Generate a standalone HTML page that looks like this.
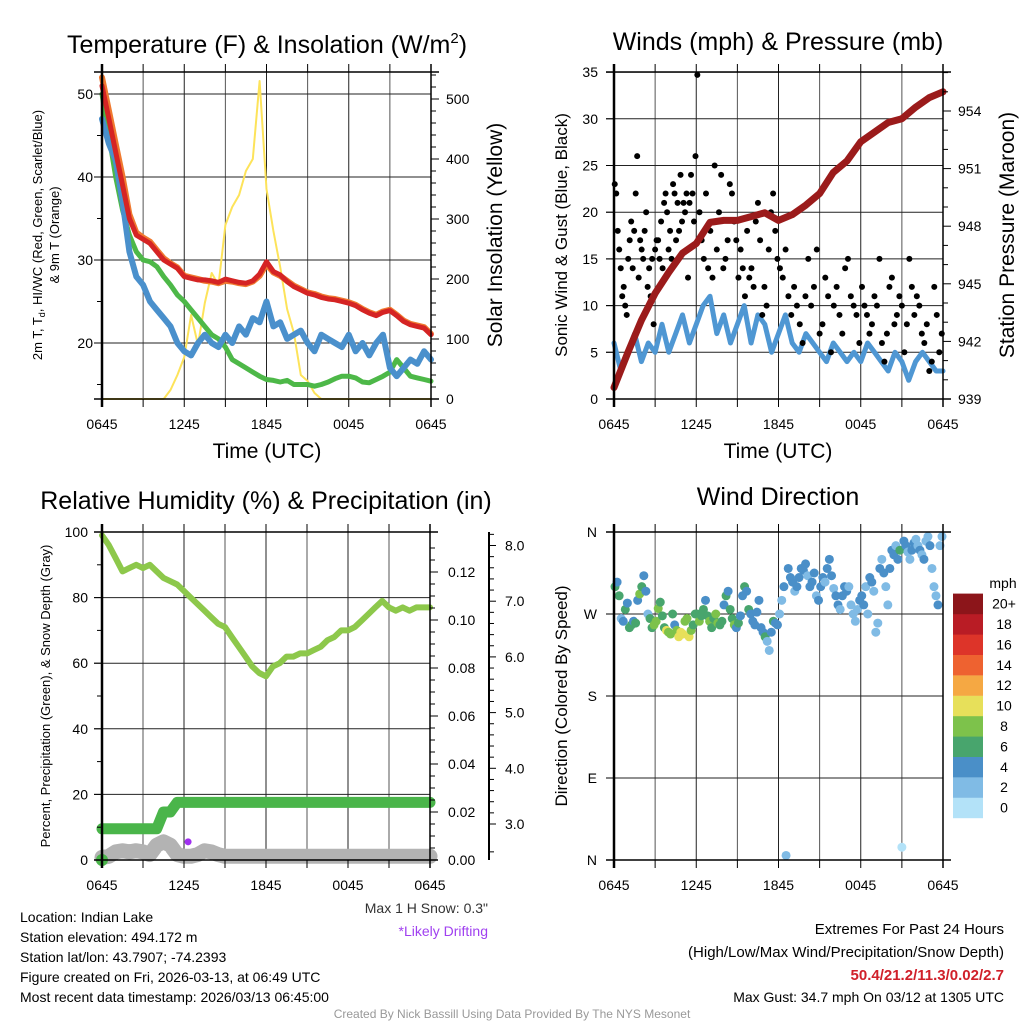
<!DOCTYPE html>
<html><head><meta charset="utf-8"><style>
html,body{margin:0;padding:0;background:#fff}
svg{display:block;font-family:"Liberation Sans",Arial,sans-serif}
</style></head><body>
<svg id="chart" width="1024" height="1024" viewBox="0 0 1024 1024" xmlns="http://www.w3.org/2000/svg">
<rect width="1024" height="1024" fill="#fff"/>
<g id="grid"></g>
<g id="series"></g>
<g id="axes"></g>
<text x="267" y="53" font-size="25" text-anchor="middle">Temperature (F) &amp; Insolation (W/m<tspan dy="-10" font-size="15">2</tspan><tspan dy="10">)</tspan></text>
<text x="778" y="50" font-size="25" text-anchor="middle">Winds (mph) &amp; Pressure (mb)</text>
<text x="266" y="509" font-size="25" text-anchor="middle">Relative Humidity (%) &amp; Precipitation (in)</text>
<text x="778" y="505" font-size="25" text-anchor="middle">Wind Direction</text>
<text x="267" y="458" font-size="21" text-anchor="middle">Time (UTC)</text>
<text x="778" y="458" font-size="21" text-anchor="middle">Time (UTC)</text>
<text transform="translate(42,235) rotate(-90)" font-size="13" text-anchor="middle">2m T, T<tspan font-size="9" dy="3">d</tspan><tspan dy="-3">, HI/WC (Red, Green, Scarlet/Blue)</tspan></text>
<text transform="translate(59,235) rotate(-90)" font-size="13" text-anchor="middle">&amp; 9m T (Orange)</text>
<text transform="translate(502,235) rotate(-90)" font-size="21" text-anchor="middle">Solar Insolation (Yellow)</text>
<text transform="translate(567,235) rotate(-90)" font-size="17" text-anchor="middle">Sonic Wind &amp; Gust (Blue, Black)</text>
<text transform="translate(1014,235) rotate(-90)" font-size="21" text-anchor="middle">Station Pressure (Maroon)</text>
<text transform="translate(50,696) rotate(-90)" font-size="13" text-anchor="middle">Percent, Precipitation (Green), &amp; Snow Depth (Gray)</text>
<text transform="translate(567,696) rotate(-90)" font-size="17" text-anchor="middle">Direction (Colored By Speed)</text>
<text x="1003" y="588" font-size="14" text-anchor="middle">mph</text>
<g font-size="14">
<text x="20" y="922">Location: Indian Lake</text>
<text x="20" y="942">Station elevation: 494.172 m</text>
<text x="20" y="962">Station lat/lon: 43.7907; -74.2393</text>
<text x="20" y="982">Figure created on Fri, 2026-03-13, at 06:49 UTC</text>
<text x="20" y="1002">Most recent data timestamp: 2026/03/13 06:45:00</text>
</g>
<text x="488" y="913" font-size="14" fill="#333" text-anchor="end">Max 1 H Snow: 0.3"</text>
<text x="488" y="936" font-size="14" fill="#a040f0" text-anchor="end">*Likely Drifting</text>
<g font-size="15" text-anchor="end">
<text x="1004" y="934">Extremes For Past 24 Hours</text>
<text x="1004" y="957">(High/Low/Max Wind/Precipitation/Snow Depth)</text>
<text x="1004" y="980" fill="#d0202a" font-weight="bold">50.4/21.2/11.3/0.02/2.7</text>
<text x="1004" y="1002" font-size="14">Max Gust: 34.7 mph On 03/12 at 1305 UTC</text>
</g>
<text x="512" y="1018" font-size="12" fill="#999" text-anchor="middle">Created By Nick Bassill Using Data Provided By The NYS Mesonet</text>
</svg>
<script>
// ---- data (half-hourly, 0645 -> 0645 UTC) ----
const timeLabels = ["0645","1245","1845","0045","0645"];
const tempT = [51,47,43,39,35,33,32.5,32,31,30,29.5,29,28,27.8,27.6,27.6,27.5,27.3,27.7,27.5,27.3,27.2,27.5,28.3,29.8,28.6,28.2,27.4,26.8,26.4,26,25.8,25.5,25.3,25.2,25,24.8,24.5,24,23.6,23.3,23.7,23.9,23.3,22.6,22.2,22,21.8,21];
const temp9m = [52,48,44,40,35.5,33.3,32.7,32.2,31.2,30.2,29.6,29.1,28.1,27.9,27.7,27.5,27.4,27.2,27.5,27.4,27.2,27.1,27.4,28.1,29.5,28.5,28.1,27.5,26.9,26.5,26.1,25.9,25.6,25.4,25.3,25.1,24.9,24.6,24.1,23.7,23.4,23.8,24,23.4,22.7,22.3,22.1,21.9,21.1];
const dewpoint = [50,45,40,36,33,31,30,29.8,29.2,28,27,25.8,25,24,23,22,21,20.5,19.5,18,17.5,17,16.5,16,15.6,15.5,15.3,15.5,15,15,15,14.8,15,15.3,15.7,16,16,15.8,15.3,15.2,15.6,16,16.5,18,17,16,15.8,15.6,15.4];
const windChill = [47,44,42,37,31,28,27,25,24,23,22,20,19,18.5,20,21,20,19.5,21,20,22,21,23,22.5,25,22,22.5,20.5,21,21.5,20,19,21,20.5,20,19.5,21,19,20,18.5,20,21,17,16,17,18,17.5,19,18];
const insolation = [0,0,0,0,0,0,0,0,0,0,15,40,70,140,90,160,210,190,290,320,340,380,400,530,350,280,220,150,110,40,30,10,0,0,0,0,0,0,0,0,0,0,0,0,0,0,0,0,0];
const sonicWind = [6,3,5,7,4,6,5,8,5,7,9,6,8,10,11,7,9,6,8,10,6,9,8,5,7,9,6,5,7,6,5,4,6,5,4,5,4,6,5,4,3,5,4,2,4,5,4,3,3];
const pressureHourly = [939.6,941.4,943.1,944.5,945.6,946.6,947.1,948.2,948.3,948.3,948.5,948.7,948.3,948.6,949.1,949.7,950.8,951.4,952.4,952.9,953.4,953.6,954.2,954.7,955.0];
const gustsA = [23,22,18,16,14,11,12,10,9,15,17,19,14,18,22,26,13,17,16,15,18,20,12,14,11,15,8,16,17,17,15,19,14,21,22,20,16,18,15,23,22,17,21,18,24,19,21,20,22,13,21,24,22,19,26];
const gustsB = [34.7,20,17,15,22,14,18,13,25,16,20,24,14,15,17,23,22,19,17,13,16,14,11,18,13,14,12,19,21,17,9,12,10,16,20,22,18,15];
const gustsC = [14,13,16,11,9,12,10,8,6,11,15,10,12,16,7,8,13,11,5,10,12,9,7,14,15,11,10,9,6];
const gustsD = [12,10,9,7,8,11,10,15,6,4,7,12,13,8,9,11,10,5,8,15,12,9,11,10,7,6,8,3,4,12,9,5,7];
const humidity = [99,96,92,88,89,90,89,90,88,86,85,84,82,80,78,76,74,72,71,68,65,62,59,57,56,59,60,62,62,63,63,64,65,67,68,70,70,71,73,75,77,79,77,76,77,76,77,77,77];
const precip = [0.013,0.013,0.013,0.013,0.013,0.013,0.013,0.013,0.013,0.02,0.02,0.024,0.024,0.024,0.024,0.024,0.024,0.024,0.024,0.024,0.024,0.024,0.024,0.024,0.024,0.024,0.024,0.024,0.024,0.024,0.024,0.024,0.024,0.024,0.024,0.024,0.024,0.024,0.024,0.024,0.024,0.024,0.024,0.024,0.024,0.024,0.024,0.024,0.024];
const snowDepth = [2.4,2.42,2.5,2.52,2.5,2.52,2.5,2.45,2.62,2.68,2.62,2.45,2.42,2.42,2.45,2.52,2.5,2.45,2.42,2.42,2.42,2.42,2.42,2.42,2.42,2.42,2.42,2.42,2.42,2.42,2.42,2.42,2.42,2.42,2.42,2.42,2.42,2.42,2.42,2.42,2.42,2.42,2.42,2.42,2.42,2.42,2.42,2.42,2.42];
const dirsA = [300,305,290,265,262,275,282,255,258,262,260,285,292,300,312,295,270,265,255,258,262,276,283,268,255,252,250,248,270,258,252,245,250,248,262,265,245,252,258,270];
const speedsA = [6,4,7,3,5,6,4,6,7,5,7,5,8,6,4,4,3,7,6,8,9,8,7,6,7,10,9,8,6,4,9,10,11,10,8,9,10,9,7,6];
const dirsB = [270,262,268,275,285,268,262,255,265,270,260,258,262,280,290,295,275,265,258,255,260,268,290,300,295,275,270,262,258,272,285,255,250,245,240,230,250,262,260,258];
const speedsB = [7,8,6,6,5,7,8,7,6,9,8,7,6,5,7,4,6,7,8,5,6,5,4,6,4,7,5,4,5,4,4,5,4,6,3,2,4,6,4,5];
const dirsC = [270,285,300,5,320,310,305,295,300,310,320,318,325,312,300,305,315,290,285,300,310,305,320,330,312,298,290,280,275,290,300,295,300,280,270,262,275,285];
const speedsC = [3,2,4,3,4,4,4,3,4,4,4,4,4,3,4,4,4,2,4,4,4,2,4,4,4,3,4,4,2,4,4,4,3,2,3,2,3,4];
const dirsD = [290,280,300,270,310,305,295,250,260,320,330,315,300,280,320,340,335,345,330,340,14,350,345,338,330,340,348,352,345,340,335,330,350,355,345,320,300,290,280,345,355];
const speedsD = [4,4,3,2,4,4,3,2,3,4,2,4,3,2,4,4,4,2,4,6,0,4,4,3,2,4,4,2,3,4,2,4,3,2,4,2,3,2,4,3,2];
const speedBinLabels = ["0","2","4","6","8","10","12","14","16","18","20+"];
const speedColors = ["#b3e2f8","#80bbe5","#4a8fc8","#48a56d","#7dc24b","#e7e05a","#f5a843","#ee6230","#dd3429","#b91c25","#8c151a"];

const NS="http://www.w3.org/2000/svg";
const gGrid=document.getElementById('grid'), gSer=document.getElementById('series'), gAx=document.getElementById('axes');
function mk(tag,attrs,parent){const e=document.createElementNS(NS,tag);for(const k in attrs)e.setAttribute(k,attrs[k]);parent.appendChild(e);return e;}

const P1={x0:102,x1:431,y0:72,y1:399}, P2={x0:614,x1:943,y0:72,y1:399}, P3={x0:102,x1:430,y0:532,y1:860}, P4={x0:614,x1:943,y0:532,y1:860};
const xT=(p,h)=>p.x0+h/24*(p.x1-p.x0);
const y1L=v=>343-(v-20)*8.3, y1R=v=>399-v*0.6;
const y2L=v=>399-v*9.34, y2R=v=>399-(v-939)*19.2;
const y3L=v=>860-v*3.28, y3P=v=>860-v*2400, y3S=v=>824-(v-3)*55.7;
const y4D=d=>860-d/360*328;

function line(x1,y1,x2,y2,stroke,w,par){return mk('line',{x1,y1,x2,y2,stroke,'stroke-width':w},par);}
function txt(x,y,s,anchor,size,par){const e=mk('text',{x,y,'text-anchor':anchor,'font-size':size},par);e.textContent=s;return e;}

[P1,P2,P3,P4].forEach((p,pi)=>{
  for(let h=0;h<=24;h+=3){
    const x=xT(p,h);
    const g=line(x,p.y0,x,p.y1,h%6?'#555':'#222',1,gGrid);
    
    
    const t=line(x,p.y0-8,x,p.y0,'#000',1,gAx);
    
    
    const tb=line(x,p.y1,x,p.y1+8,'#000',1,gAx);
    
    
  }
  timeLabels.forEach((s,i)=>{
    const l=txt(xT(p,i*6),p.y1+30,s,'middle',14,gAx);
    
    
  });
  const top=line(p.x0-8,p.y0,p.x1+8,p.y0,'#000',1.5,gAx);
  
  
  const bot=line(p.x0-8,p.y1,p.x1+8,p.y1,'#000',1.5,gAx);
  
  
  const lft=line(p.x0,p.y0-8,p.x0,p.y1+8,'#000',2.5,gAx);
  
  
  const rgt=line(p.x1,p.y0-8,p.x1,p.y1+8,'#000',1.5,gAx);
  
  
});
function yAxis(p,vals,yf,labels,side,grid,lx){
  vals.forEach((v,i)=>{
    const y=yf(v);
    if(grid){const g=line(p.x0-8,y,p.x1,y,'#222',1,gGrid);
      
      }
    const t= side==='L'? line(p.x0-8,y,p.x0,y,'#000',1,gAx) : line(p.x1,y,p.x1+8,y,'#000',1,gAx);
    
    
    const l=txt(lx,y+5,labels[i],side==='L'?'end':'start',14,gAx);
    
    
  });
}
function minor(x,vals,yf,len){vals.forEach(v=>{const m=line(x,yf(v),x+len,yf(v),'#000',1,gAx);
  
  });}

const t1Ticks=[20,30,40,50], s1Ticks=[0,100,200,300,400,500];
yAxis(P1,t1Ticks,y1L,t1Ticks.map(String),'L',true,93);
yAxis(P1,s1Ticks,y1R,s1Ticks.map(String),'R',false,446);
minor(P1.x0,[15,25,35,45],y1L,-5);
minor(P1.x1,[20,40,60,80,120,140,160,180,220,240,260,280,320,340,360,380,420,440,460,480,520,540],y1R,5);
const w2Ticks=[0,5,10,15,20,25,30,35], p2Ticks=[939,942,945,948,951,954];
yAxis(P2,w2Ticks,y2L,w2Ticks.map(String),'L',true,598);
yAxis(P2,p2Ticks,y2R,p2Ticks.map(String),'R',false,958);
minor(P2.x1,[940,941,943,944,946,947,949,950,952,953,955,956],y2R,5);
const rhTicks=[0,20,40,60,80,100], prTicks=[0,0.02,0.04,0.06,0.08,0.1,0.12], snTicks=[3,4,5,6,7,8];
yAxis(P3,rhTicks,y3L,rhTicks.map(String),'L',true,88);
yAxis(P3,prTicks,y3P,prTicks.map(v=>v.toFixed(2)),'R',false,448);
minor(P3.x0,[10,30,50,70,90],y3L,-5);
minor(P3.x1,[0.005,0.01,0.015,0.025,0.03,0.035,0.045,0.05,0.055,0.065,0.07,0.075,0.085,0.09,0.095,0.105,0.11,0.115,0.125,0.13],y3P,5);
const sAx=line(489,532,489,860,'#000',2,gAx);


snTicks.forEach(v=>{const t=line(489,y3S(v),496,y3S(v),'#000',1,gAx);
  
  
  const l=txt(505,y3S(v)+5,v.toFixed(1),'start',14,gAx);
  
  });
minor(489,[2.5,3.2,3.4,3.6,3.8,4.2,4.4,4.6,4.8,5.2,5.4,5.6,5.8,6.2,6.4,6.6,6.8,7.2,7.4,7.6,7.8,8.2],y3S,5);
const dirTicks=[0,90,180,270,360], dirLabels=["N","E","S","W","N"];
yAxis(P4,dirTicks,y4D,dirLabels,'L',true,597);

function series(p,arr,yf,color,w,name,stepH){
  const pts=arr.map((v,i)=>xT(p,i*stepH).toFixed(1)+','+yf(v).toFixed(1)).join(' ');
  const e=mk('polyline',{points:pts,fill:'none',stroke:color,'stroke-width':w,'stroke-linejoin':'round','stroke-linecap':'round'},gSer);
  
  
  return e;
}
series(P1,insolation,y1R,'#fde35a',2,'insolation-line',0.5);
series(P1,dewpoint,y1L,'#4db848',5,'dewpoint-line',0.5);
series(P1,windChill,y1L,'#4a90cc',6,'wind-chill-line',0.5);
series(P1,temp9m,y1L,'#f07a30',6,'temp-9m-line',0.5);
series(P1,tempT,y1L,'#d52424',5,'temp-2m-line',0.5);
series(P2,sonicWind,y2L,'#4f97d3',5,'sonic-wind-line',0.5);
[gustsA,gustsB,gustsC,gustsD].forEach((seg,s)=>{
  seg.forEach((v,j)=>{
    const h=s*6+(j+0.5)/seg.length*6;
    const c=mk('circle',{cx:xT(P2,h),cy:y2L(v),r:3,fill:'#000'},gSer);
    
    
  });
});
series(P2,pressureHourly,y2R,'#9b1b1b',7,'pressure-line',1);
series(P3,snowDepth,y3S,'#b3b3b3',15,'snow-depth-line',0.5);
const p0=mk('circle',{cx:xT(P3,0),cy:y3P(0),r:6,fill:'#4ab54a'},gSer);


series(P3,precip,y3P,'#4ab54a',11,'precipitation-line',0.5);
series(P3,humidity,y3L,'#8dc84b',6,'humidity-line',0.5);
const drift=mk('circle',{cx:xT(P3,6.3),cy:y3S(2.68),r:3.5,fill:'#a030f0'},gSer);


[[dirsA,speedsA],[dirsB,speedsB],[dirsC,speedsC],[dirsD,speedsD]].forEach(([ds,ss],s)=>{
  const n=Math.min(ds.length,ss.length);
  for(let j=0;j<n;j++){
    const h=s*6+(j+0.5)/n*6;
    const bin=Math.min(10,Math.floor(ss[j]/2));
    const c=mk('circle',{cx:xT(P4,h),cy:y4D(ds[j]),r:4.5,fill:speedColors[bin]},gSer);
    
    
  }
});
speedBinLabels.forEach((lab,i)=>{
  const y=818-(i+1)*20.4;
  const r=mk('rect',{x:953,y:y,width:30,height:20.6,fill:speedColors[i]},gAx);
  
  
  const t=txt(1004,y+15,lab,'middle',14,gAx);
  
  
});
</script>
</body></html>
